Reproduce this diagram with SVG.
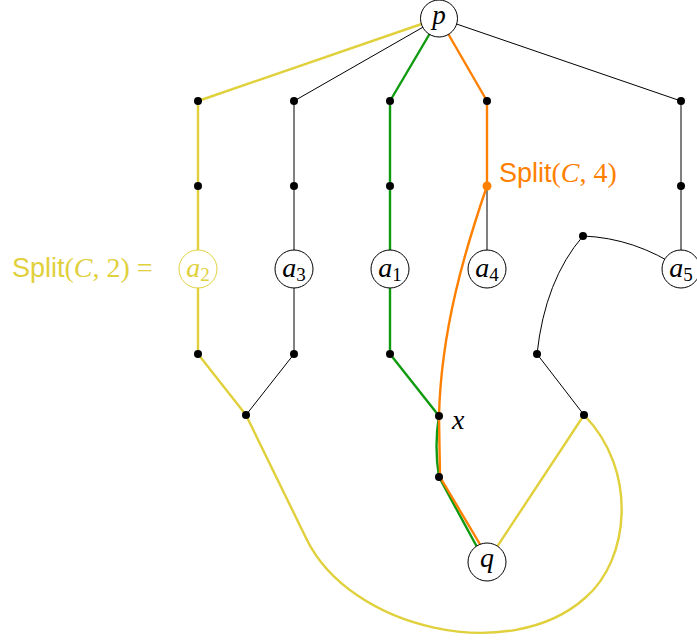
<svg xmlns="http://www.w3.org/2000/svg" width="697" height="642" viewBox="0 0 697 642">
<style>
.blk{fill:none;stroke:#000;stroke-width:1;}
.yel{fill:none;stroke:#e0d03c;stroke-width:2.4;stroke-linejoin:round;}
.grn{fill:none;stroke:#0f9a0f;stroke-width:2.4;stroke-linejoin:round;}
.org{fill:none;stroke:#ff8000;stroke-width:2.4;stroke-linejoin:round;}
.node{fill:#fff;stroke:#000;stroke-width:1;}
.dot{fill:#000;}
.math{font-family:"Liberation Serif","DejaVu Serif",serif;font-style:italic;font-size:28px;fill:#000;}
.sub{font-size:19px;font-style:normal;}
.sans{font-family:"Liberation Sans","DejaVu Sans",sans-serif;font-style:normal;font-size:27px;}
.rm{font-family:"Liberation Serif","DejaVu Serif",serif;font-style:normal;}
</style>
<g id="connectors">
  <!-- black -->
  <path class="blk" d="M439,18 L294,101 L294,354 L246,415"/>
  <path class="blk" d="M439,18 L681,101 L681,269"/>
  <path class="blk" d="M487,186 L487,269"/>
  <path class="blk" d="M681,269 Q635,238 583,236 Q545,280 537,354 L584,415"/>
  <!-- yellow -->
  <path class="yel" d="M439,18 L198,101 L198,354 L246,415 L306,538 C350,630 510,665 585,598 C630,560 638,470 584,415 L487,562"/>
  <!-- green -->
  <path class="grn" d="M439,18 L390,101 L390,354 L439,416 Q434,446 439,477 L477,547"/>
  <!-- orange -->
  <path class="org" d="M439,18 L487,101 L487,186 C465,250 441,330 439,416 L440,477 L481,546"/>
</g>
<g id="dots">
  <circle class="dot" cx="198" cy="101" r="4"/>
  <circle class="dot" cx="294" cy="101" r="4"/>
  <circle class="dot" cx="390" cy="101" r="4"/>
  <circle class="dot" cx="487" cy="101" r="4"/>
  <circle class="dot" cx="681" cy="101" r="4"/>
  <circle class="dot" cx="198" cy="186" r="4"/>
  <circle class="dot" cx="294" cy="186" r="4"/>
  <circle class="dot" cx="390" cy="186" r="4"/>
  <circle class="dot" cx="681" cy="186" r="4"/>
  <circle cx="487" cy="186" r="4.5" fill="#ff8000"/>
  <circle class="dot" cx="198" cy="354" r="4"/>
  <circle class="dot" cx="294" cy="354" r="4"/>
  <circle class="dot" cx="390" cy="354" r="4"/>
  <circle class="dot" cx="537" cy="354" r="4"/>
  <circle class="dot" cx="583" cy="236" r="4"/>
  <circle class="dot" cx="246" cy="415" r="4"/>
  <circle class="dot" cx="439" cy="416" r="4"/>
  <circle class="dot" cx="584" cy="415" r="4"/>
  <circle class="dot" cx="439" cy="477" r="4"/>
</g>
<g id="p">
  <circle class="node" cx="439" cy="18.5" r="18.5"/>
  <text class="math" x="439" y="24" text-anchor="middle" style="font-size:27px">p</text>
</g>
<g id="q">
  <circle class="node" cx="487" cy="562" r="19"/>
  <text class="math" x="487" y="567" text-anchor="middle">q</text>
</g>
<g id="a2">
  <circle cx="198" cy="269" r="19" fill="#fff" stroke="#e0d03c" stroke-width="1"/>
  <text class="math" x="198" y="277" text-anchor="middle" style="fill:#e0d03c">a<tspan class="sub" dy="4">2</tspan></text>
</g>
<g id="a3">
  <circle class="node" cx="294" cy="269" r="19"/>
  <text class="math" x="294" y="277" text-anchor="middle">a<tspan class="sub" dy="4">3</tspan></text>
</g>
<g id="a1">
  <circle class="node" cx="390" cy="269" r="19"/>
  <text class="math" x="390" y="277" text-anchor="middle">a<tspan class="sub" dy="4">1</tspan></text>
</g>
<g id="a4">
  <circle class="node" cx="487" cy="269" r="19"/>
  <text class="math" x="487" y="277" text-anchor="middle">a<tspan class="sub" dy="4">4</tspan></text>
</g>
<g id="a5">
  <circle class="node" cx="681" cy="269" r="19"/>
  <text class="math" x="681" y="277" text-anchor="middle">a<tspan class="sub" dy="4">5</tspan></text>
</g>
<g id="labels">
  <text class="math" x="452" y="429">x</text>
  <text class="math" x="12" y="277" style="fill:#e0d03c"><tspan class="sans">Split</tspan><tspan class="rm">(</tspan>C<tspan class="rm">, 2) = </tspan></text>
  <text class="math" x="499" y="182" style="fill:#ff8000"><tspan class="sans">Split</tspan><tspan class="rm">(</tspan>C<tspan class="rm">, 4)</tspan></text>
</g>
</svg>
